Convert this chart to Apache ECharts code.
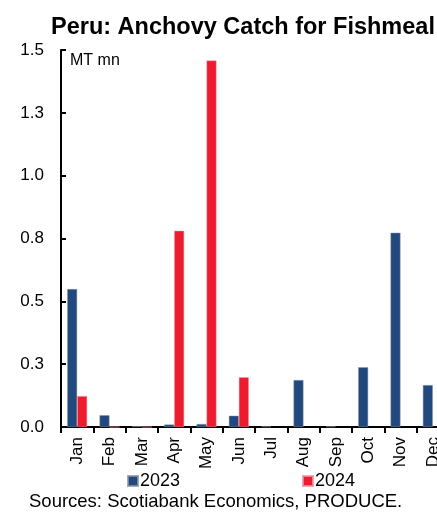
<!DOCTYPE html>
<html>
<head>
<meta charset="utf-8">
<script src="https://cdn.jsdelivr.net/npm/echarts@6/dist/echarts.min.js"></script>
<style>
  html, body { margin: 0; padding: 0; background: #fff; overflow: hidden; }
  /* canvas is a little wider than the window so the last month is cut at the edge */
  #chart { width: 452px; height: 512px; }
</style>
</head>
<body>
<div id="chart"></div>
<script>
// Monthly anchovy catch for fishmeal, million metric tonnes
const months = ['Jan', 'Feb', 'Mar', 'Apr', 'May', 'Jun', 'Jul', 'Aug', 'Sep', 'Oct', 'Nov', 'Dec'];
const catch2023 = [0.549, 0.047, 0.003, 0.010, 0.012, 0.045, 0.002, 0.187, 0.002, 0.238, 0.773, 0.167];
const catch2024 = [0.123, 0, 0, 0.781, 1.458, 0.198, null, null, null, null, null, null];
const yTickLabels = ['0.0', '0.3', '0.5', '0.8', '1.0', '1.3', '1.5'];

const FONT = '"Liberation Sans", Arial, sans-serif';
const NAVY = '#22497d';
const RED = '#ec1c2e';

const chart = echarts.init(document.getElementById('chart'), null, { renderer: 'canvas' });

chart.setOption({
  animation: false,
  backgroundColor: '#ffffff',
  title: [
    {
      text: 'Peru: Anchovy Catch for Fishmeal',
      left: 46,
      top: 11,
      textStyle: { fontFamily: FONT, fontSize: 23.5, fontWeight: 'bold', color: '#000' }
    },
    {
      text: 'Sources: Scotiabank Economics, PRODUCE.',
      left: 29,
      top: 492,
      padding: 0,
      textStyle: { fontFamily: FONT, fontSize: 18.5, fontWeight: 'normal', color: '#000' }
    }
  ],
  graphic: [
    {
      type: 'text',
      left: 70,
      top: 53,
      style: { text: 'MT mn', font: '16px ' + FONT, fill: '#000' }
    }
  ],
  legend: [
    {
      data: ['2023'],
      left: 127,
      top: 472,
      padding: 0,
      itemWidth: 10,
      itemHeight: 10,
      icon: 'rect',
      textStyle: { fontFamily: FONT, fontSize: 18, color: '#000', padding: [0, 0, 0, -3] }
    },
    {
      data: ['2024'],
      left: 302,
      top: 472,
      padding: 0,
      itemWidth: 10,
      itemHeight: 10,
      icon: 'rect',
      textStyle: { fontFamily: FONT, fontSize: 18, color: '#000', padding: [0, 0, 0, -3] }
    }
  ],
  grid: { left: 61, width: 388, top: 50, bottom: 85, containLabel: false },
  xAxis: {
    type: 'category',
    data: months,
    boundaryGap: true,
    axisLine: { lineStyle: { color: '#000', width: 2 } },
    axisTick: { show: true, inside: false, length: 6, lineStyle: { color: '#000', width: 2 } },
    axisLabel: {
      rotate: 90,
      margin: 10,
      interval: 0,
      fontFamily: FONT,
      fontSize: 17,
      color: '#000'
    },
    splitLine: { show: false }
  },
  yAxis: {
    type: 'value',
    min: 0,
    max: 1.5,
    interval: 0.25,
    axisLine: { show: true, lineStyle: { color: '#000', width: 2 } },
    axisTick: { show: true, inside: true, length: 5, lineStyle: { color: '#000', width: 2 } },
    axisLabel: {
      margin: 17,
      fontFamily: FONT,
      fontSize: 17,
      color: '#000',
      formatter: (v) => yTickLabels[Math.round(v / 0.25)]
    },
    splitLine: { show: false }
  },
  series: [
    {
      name: '2023',
      type: 'bar',
      data: catch2023,
      barWidth: 10,
      barGap: '0%',
      itemStyle: { color: NAVY, borderColor: 'rgba(140,150,165,0.8)', borderWidth: 0.6 }
    },
    {
      name: '2024',
      type: 'bar',
      data: catch2024,
      barWidth: 10,
      barGap: '0%',
      itemStyle: { color: RED, borderColor: 'rgba(240,150,160,0.8)', borderWidth: 0.6 }
    }
  ]
});
</script>
</body>
</html>
